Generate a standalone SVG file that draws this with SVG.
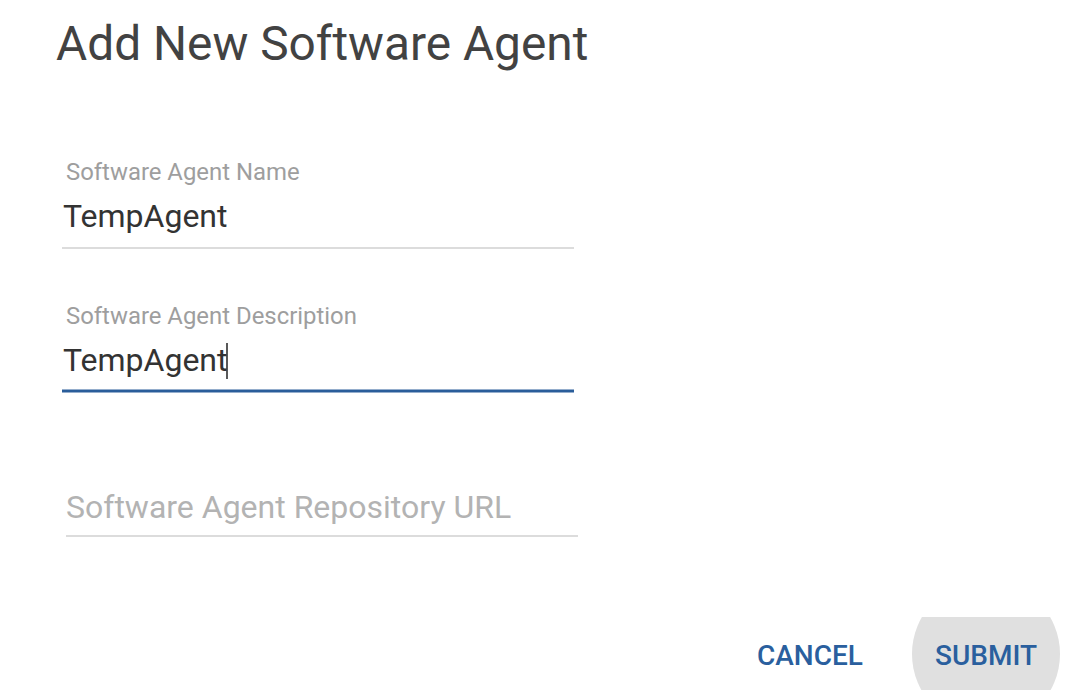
<svg xmlns="http://www.w3.org/2000/svg" width="1082" height="698" viewBox="0 0 1082 698">
<defs>
<style>
text{font-family:Roboto,"Liberation Sans",sans-serif}
.title{font-size:47.8px;fill:#424242}
.label{font-size:23.9px;fill:#9e9e9e}
.value{font-size:32px;fill:#333333}
.ph{font-size:32px;fill:#b3b3b3}
.btn{font-size:28px;font-weight:500;fill:#2a5f9e}
.line{stroke:#dcdcdc;stroke-width:2}
</style>
<clipPath id="btnclip"><rect x="900" y="617" width="182" height="73"/></clipPath>
</defs>
<rect width="1082" height="698" fill="#ffffff"/>
<g id="title"><text class="title" x="56" y="60">Add New Software Agent</text></g>
<g id="field-name">
<text class="label" x="66" y="180">Software Agent Name</text>
<text class="value" x="63" y="227">TempAgent</text>
<line class="line" x1="62" y1="248" x2="574" y2="248"/>
</g>
<g id="field-description">
<text class="label" x="66" y="324">Software Agent Description</text>
<text class="value" x="63" y="371">TempAgent</text>
<line x1="227" y1="343" x2="227" y2="379" stroke="#222" stroke-width="1.5"/>
<line x1="62" y1="391" x2="574" y2="391" stroke="#2a5d9a" stroke-width="3"/>
</g>
<g id="field-url">
<text class="ph" x="66" y="518">Software Agent Repository URL</text>
<line class="line" x1="66" y1="536" x2="578" y2="536"/>
</g>
<g id="btn-cancel"><text class="btn" x="757" y="665">CANCEL</text></g>
<g id="btn-submit">
<circle cx="986" cy="654" r="74" fill="#e0e0e0" clip-path="url(#btnclip)"/>
<text class="btn" x="935" y="665">SUBMIT</text>
</g>
<g id="connectors"/>
</svg>
